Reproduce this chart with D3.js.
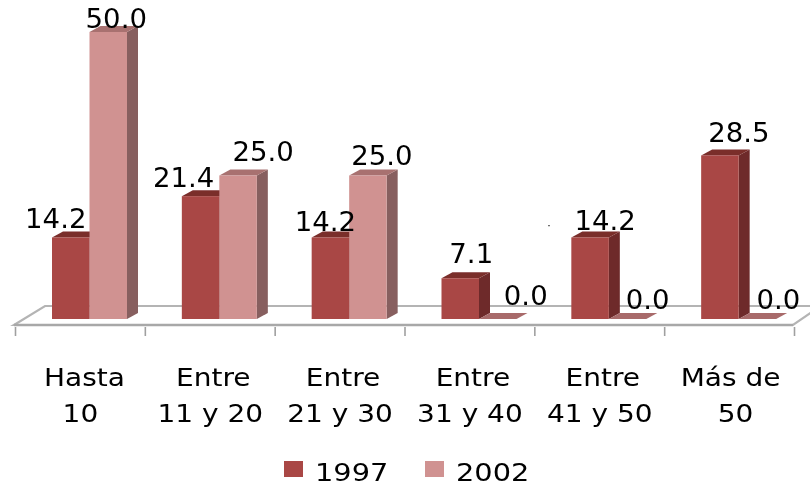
<!DOCTYPE html>
<html><head><meta charset="utf-8">
<script src="https://cdn.jsdelivr.net/npm/d3@7"></script>
<style>html,body{margin:0;padding:0;background:#fff}svg{display:block}text{font-family:"DejaVu Sans";fill:#000}</style>
</head><body><svg id="c" width="810" height="486"></svg>
<script>
const categories=[["Hasta","10"],["Entre","11 y 20"],["Entre","21 y 30"],["Entre","31 y 40"],["Entre","41 y 50"],["Más de","50"]];
const series=["1997","2002"];
const values1997=[14.2,21.4,14.2,7.1,14.2,28.5];
const values2002=[50.0,25.0,25.0,0.0,0.0,0.0];
const nudge1997=[[-15,3],[-17,3],[-5,6],[11,-3],[15,5],[19,-1]];
const nudge2002=[[8,8],[25,-3],[14,1],[28,-2],[20,2],[21,2]];
const catNudge=[[4,0],[3,0],[3,0],[3,0],[3,0],[1,6]];

const W=810,H=486,base=319,dx=11,dy=6,barW=37.5;
const svg=d3.select("#c");
const defs=svg.append("defs");
defs.append("filter").attr("id","soft").attr("x","-5%").attr("y","-5%").attr("width","110%").attr("height","110%")
  .append("feGaussianBlur").attr("stdDeviation",0.6);
const root=svg.append("g").attr("filter","url(#soft)");
const x=d3.scaleBand().domain(d3.range(categories.length)).range([15.5,794.5]);
const y=d3.scaleLinear().domain([0,50]).range([base,32]);
const palette=[{front:"#a94644",top:"#7a2d2c",side:"#6e2b2a"},{front:"#d09291",top:"#a87170",side:"#875e5e"}];
const zeroTop="#a86b6b";

// floor
const floor=root.append("g");
const fl=325,bl=306;
floor.append("path").attr("d",d3.line()([[14,fl],[45,bl],[812,bl],[812,312],[793,fl]])+"Z")
  .attr("fill","#fff").attr("stroke","#b4b4b4").attr("stroke-width",2.2);
floor.append("line").attr("x1",14).attr("x2",793).attr("y1",fl).attr("y2",fl).attr("stroke","#a8a8a8").attr("stroke-width",2.4);

// ticks
const ticks=x.domain().map(d=>x(d)).concat([x.range()[1]]);
root.append("g").selectAll("line").data(ticks).join("line")
  .attr("x1",d=>d).attr("x2",d=>d).attr("y1",327).attr("y2",336)
  .attr("stroke","#a0a0a0").attr("stroke-width",1.6);

// bars
function bar(g,x0,v,c){
  const t=y(v),x1=x0+barW;
  if(v===0){
    g.append("path").attr("d",d3.line()([[x0,base],[x0+dx,base-dy],[x1+dx,base-dy],[x1,base]])+"Z").attr("fill",zeroTop);
    return;
  }
  g.append("path").attr("d",d3.line()([[x1,t],[x1+dx,t-dy],[x1+dx,base-dy],[x1,base]])+"Z").attr("fill",c.side);
  g.append("path").attr("d",d3.line()([[x0,t],[x0+dx,t-dy],[x1+dx,t-dy],[x1,t]])+"Z").attr("fill",c.top);
  g.append("rect").attr("x",x0).attr("y",t).attr("width",barW).attr("height",base-t).attr("fill",c.front);
}
const bars=root.append("g");
categories.forEach((_,i)=>{
  const x0=x(i)+36.5;
  bar(bars,x0,values1997[i],palette[0]);
  bar(bars,x0+barW,values2002[i],palette[1]);
});

function label(g,s,cx,by,size,sx){
  g.append("text").attr("transform",`translate(${cx},${by}) scale(${sx},1)`)
   .attr("text-anchor","middle").attr("font-size",size).text(s);
}
const labels=root.append("g");
categories.forEach((_,i)=>{
  const x0=x(i)+36.5;
  const a=nudge1997[i],b=nudge2002[i];
  label(labels,values1997[i].toFixed(1),x0+barW/2+a[0],y(values1997[i])-dy+a[1]-6,26,1.06);
  label(labels,values2002[i].toFixed(1),x0+barW*1.5+b[0],y(values2002[i])-dy+b[1]-6,26,1.06);
});
labels.append("text").attr("x",549).attr("y",229).attr("font-size",11).attr("text-anchor","middle").text("·");

const cat=root.append("g");
categories.forEach((c,i)=>{
  const cx=x(i)+x.bandwidth()/2;
  label(cat,c[0],cx+catNudge[i][0],386,25,1.12);
  label(cat,c[1],cx+catNudge[i][1],422,25,1.12);
});

const legendX=[284,425];
const lg=root.append("g");
series.forEach((s,i)=>{
  lg.append("rect").attr("x",legendX[i]).attr("y",461).attr("width",19).attr("height",16).attr("fill",palette[i].front);
  lg.append("text").attr("transform",`translate(${legendX[i]+31},480.5) scale(1.2,1)`).attr("font-size",24).text(s);
});
</script></body></html>
